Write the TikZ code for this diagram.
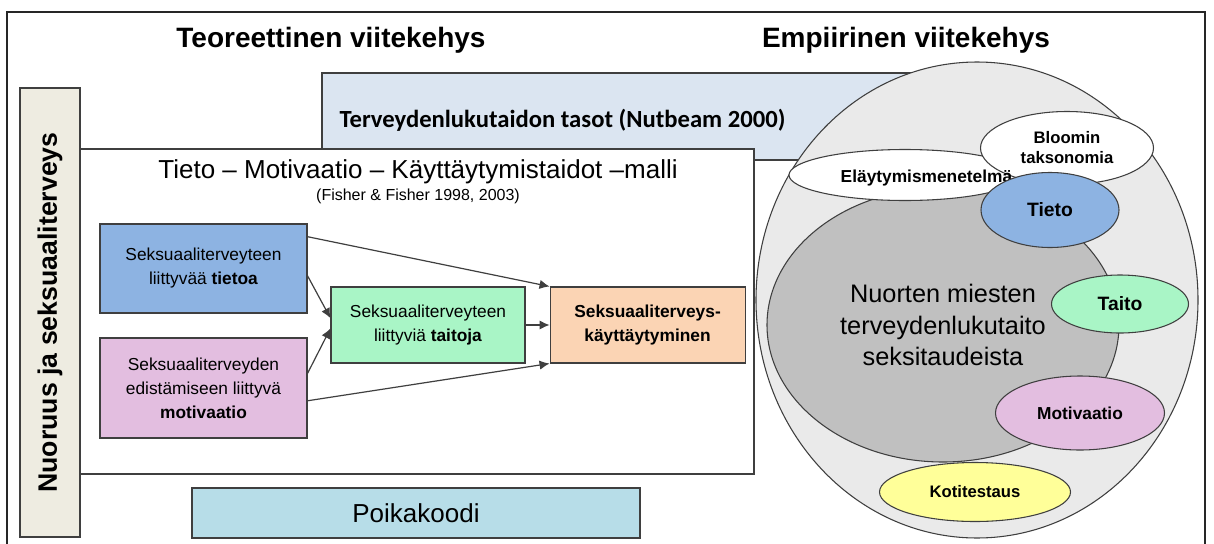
\documentclass[tikz,border=0pt]{standalone}
\usepackage{fontspec}
\setmainfont{Liberation Sans}
\newfontfamily\carlito{Carlito}
\usetikzlibrary{arrows.meta,shapes.geometric,positioning}

\definecolor{vkFrame}{HTML}{262626}
\definecolor{vkLine}{HTML}{3F3F3F}
\definecolor{vkBar}{HTML}{EEECE1}
\definecolor{vkLevel}{HTML}{DBE5F1}
\definecolor{vkKnow}{HTML}{8DB3E2}
\definecolor{vkMotiv}{HTML}{E3BEE0}
\definecolor{vkSkill}{HTML}{A9F5C6}
\definecolor{vkBehav}{HTML}{FBD4B4}
\definecolor{vkCode}{HTML}{B7DDE8}
\definecolor{vkOuter}{HTML}{EAEAEA}
\definecolor{vkInner}{HTML}{C0C0C0}
\definecolor{vkTest}{HTML}{FFFF99}

\tikzset{
  vkbox/.style={
    draw=vkLine, line width=0.8pt, inner sep=0pt, align=center,
    font=\fontsize{13}{18}\selectfont
  },
  know/.style={vkbox, fill=vkKnow, minimum width=155.25pt, minimum height=66.75pt},
  motiv/.style={vkbox, fill=vkMotiv, minimum width=155.25pt, minimum height=75pt},
  skill/.style={vkbox, fill=vkSkill, minimum width=145.5pt, minimum height=57pt},
  behav/.style={vkbox, fill=vkBehav, minimum width=146.25pt, minimum height=57pt,
    font=\fontsize{13}{18}\selectfont\bfseries},
  level/.style={vkbox, fill=vkLevel},
  vkell/.style={ellipse, draw=vkLine, line width=0.8pt, inner sep=0pt, align=center,
    font=\bfseries},
  heading/.style={font=\fontsize{21}{25}\selectfont\bfseries},
  tmarrow/.style={-{Latex[length=7.5pt,width=7pt]}, line width=0.9pt, vkLine}
}

\begin{document}
\begin{tikzpicture}[x=0.75pt, y=-0.75pt]
  \useasboundingbox (0,0) rectangle (1214,543);
  \fill[white] (0,0) rectangle (1214,543);
  \draw[vkFrame, line width=1.5pt] (7,12) rectangle (1205,560);

  % headings
  \node[heading] (teo) at (331,40) {Teoreettinen viitekehys};
  \node[heading] (emp) at (906,40) {Empiirinen viitekehys};

  % side bar
  \node[vkbox, fill=vkBar, rotate=90, minimum width=336.75pt, minimum height=45pt,
    font=\fontsize{20}{24}\selectfont\bfseries] (bar) at (50,312.5) {Nuoruus ja seksuaaliterveys};

  % health literacy levels
  \node[level, minimum width=471pt, minimum height=65.25pt] (tasot) at (636,116.5) {};
  \node[font=\carlito\fontsize{18.5}{22}\selectfont\bfseries, anchor=west]
    (tasotxt) at ([xshift=10pt, yshift=-2.5pt]tasot.west) {Terveydenlukutaidon tasot (Nutbeam 2000)};

  % IMB model
  \node[vkbox, fill=white, minimum width=505.5pt, minimum height=243.75pt] (tmk) at (417,311.5) {};
  \node[font=\fontsize{19.5}{23}\selectfont] (tmktitle) at (418,172)
    {Tieto – Motivaatio – Käyttäytymistaidot –malli};
  \node[font=\fontsize{12}{14}\selectfont] (fisher) at (418,196) {(Fisher \& Fisher 1998, 2003)};

  \node[know] (tietoa) at (203.5,268.5) {Seksuaaliterveyteen\\liittyvää \textbf{tietoa}};
  \node[motiv] (motivaatio) at (203.5,388) {Seksuaaliterveyden\\edistämiseen liittyvä\\\textbf{motivaatio}};
  \node[skill] (taitoja) at (428,325) {Seksuaaliterveyteen\\liittyviä \textbf{taitoja}};
  \node[behav, right=18pt of taitoja] (kayt) {Seksuaaliterveys-\\käyttäytyminen};

  \draw[tmarrow] (tietoa.17) -- (kayt.north west);
  \draw[tmarrow] (tietoa.-4) -- (taitoja.176);
  \draw[tmarrow] (motivaatio.8) -- (taitoja.182);
  \draw[tmarrow] (motivaatio.-7) -- (kayt.south west);
  \draw[tmarrow] (taitoja) -- (kayt);

  % boy code
  \node[vkbox, fill=vkCode, minimum width=336pt, minimum height=37.5pt,
    font=\fontsize{19.5}{23}\selectfont] (poika) at (416,513) {Poikakoodi};

  % empirical frame
  \node[vkell, fill=vkOuter, minimum width=331.5pt, minimum height=357pt] (empiria) at (977,300) {};
  \node[vkell, fill=vkInner, minimum width=264pt, minimum height=205.5pt,
    font=\fontsize{19}{23.5}\selectfont] (nuoret) at (943,325)
    {Nuorten miesten\\terveydenlukutaito\\seksitaudeista};
  \node[vkell, fill=white, minimum width=174pt, minimum height=38.25pt] (elay) at (905,175) {};
  \node[vkell, fill=white, minimum width=129.75pt, minimum height=54.75pt,
    font=\fontsize{12.5}{15}\selectfont\bfseries] (bloom) at (1067,148) {Bloomin\\taksonomia};
  \node[font=\fontsize{13}{16}\selectfont\bfseries, anchor=west, inner sep=0pt] (elaytxt)
    at ([xshift=39pt, yshift=-2pt]elay.west) {Eläytymismenetelmä};
  \node[vkell, fill=vkKnow, minimum width=103.5pt, minimum height=56.25pt,
    font=\fontsize{14.5}{17}\selectfont\bfseries] (tieto) at (1050,210) {Tieto};
  \node[vkell, fill=vkSkill, minimum width=102.75pt, minimum height=43.5pt,
    font=\fontsize{14.5}{17}\selectfont\bfseries] (taito) at (1120,304) {Taito};
  \node[vkell, fill=vkMotiv, minimum width=126.75pt, minimum height=55.5pt,
    font=\fontsize{13}{16}\selectfont\bfseries] (motiv) at (1080,413) {Motivaatio};
  \node[vkell, fill=vkTest, minimum width=143.25pt, minimum height=44.25pt,
    font=\fontsize{12.5}{15}\selectfont\bfseries] (koti) at (975,492) {Kotitestaus};
\end{tikzpicture}
\end{document}
